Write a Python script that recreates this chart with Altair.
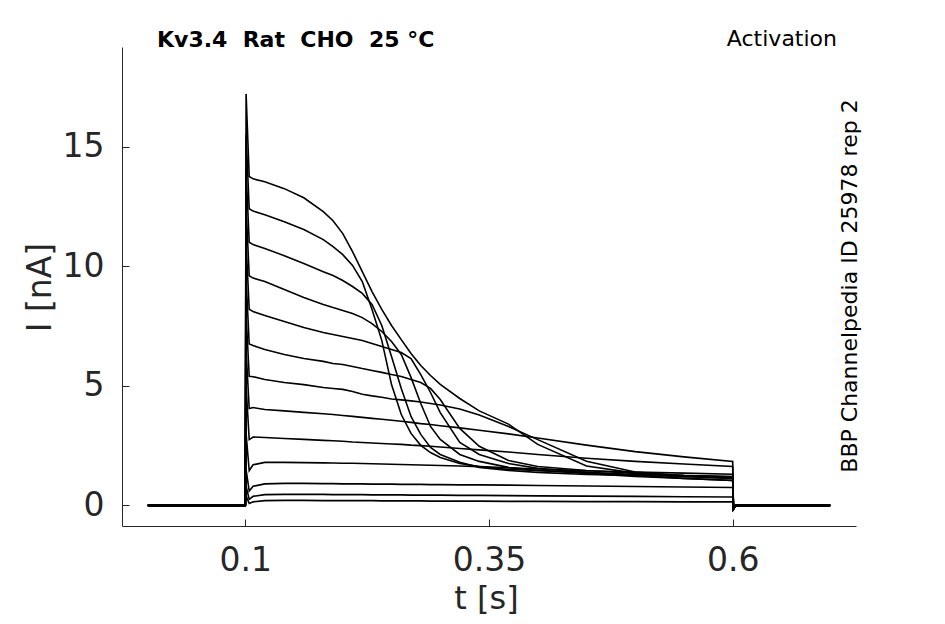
import altair as alt
import pandas as pd

# ---- data (time in s, current in nA) ----
TIME = [0.1, 0.1008, 0.104, 0.108, 0.12, 0.14, 0.16, 0.18, 0.19, 0.2, 0.21, 0.22, 0.23, 0.24,
        0.25, 0.26, 0.27, 0.28, 0.29, 0.30, 0.32, 0.34, 0.37, 0.40, 0.45, 0.50, 0.55, 0.60]

TRACE_01 = [0, 17.2, 13.75, 13.65, 13.53, 13.24, 12.86, 12.28, 11.90, 11.36, 10.61, 9.77, 8.94, 8.19,
            7.52, 6.93, 6.35, 5.85, 5.43, 5.06, 4.47, 3.95, 3.40, 2.55, 1.65, 1.35, 1.25, 1.20]
TRACE_02 = [0, 15.5, 12.4, 12.3, 12.15, 11.86, 11.53, 11.11, 10.82, 10.48, 10.03, 9.36, 8.19, 6.9,
            5.05, 3.80, 3.01, 2.51, 2.21, 2.0, 1.75, 1.63, 1.50, 1.46, 1.38, 1.29, 1.25, 1.21]
TRACE_03 = [0, 14.0, 11.0, 10.9, 10.74, 10.44, 10.11, 9.77, 9.61, 9.40, 9.15, 8.86, 8.40, 7.52,
            6.22, 4.89, 3.72, 2.97, 2.42, 2.13, 1.80, 1.59, 1.46, 1.38, 1.29, 1.25, 1.21, 1.13]
TRACE_04 = [0, 12.5, 9.6, 9.5, 9.36, 9.02, 8.69, 8.40, 8.27, 8.15, 8.02, 7.85, 7.60, 7.27,
            6.85, 6.31, 5.35, 4.26, 3.30, 2.76, 2.13, 1.84, 1.59, 1.46, 1.34, 1.21, 1.13, 1.04]
TRACE_05 = [0, 11.0, 8.2, 8.1, 7.94, 7.69, 7.44, 7.23, 7.14, 7.06, 6.98, 6.89, 6.77, 6.64,
            6.52, 6.39, 6.14, 5.47, 4.72, 3.88, 2.63, 2.13, 1.75, 1.55, 1.38, 1.25, 1.13, 1.04]
TRACE_06 = [0, 9.5, 6.75, 6.68, 6.52, 6.31, 6.14, 6.02, 5.93, 5.89, 5.81, 5.72, 5.64, 5.56,
            5.47, 5.39, 5.26, 5.14, 4.89, 4.43, 3.22, 2.47, 1.88, 1.63, 1.46, 1.34, 1.21, 1.13]
TRACE_07 = [0, 8.0, 5.4, 5.38, 5.26, 5.14, 5.05, 4.93, 4.89, 4.85, 4.76, 4.65, 4.58, 4.52,
            4.45, 4.41, 4.37, 4.32, 4.26, 4.20, 4.03, 3.78, 3.30, 2.75, 1.85, 1.40, 1.25, 1.18]
TRACE_08 = [0, 6.5, 4.05, 4.09, 4.01, 3.95, 3.89, 3.83, 3.80, 3.76, 3.72, 3.68, 3.64, 3.60,
            3.56, 3.52, 3.47, 3.42, 3.38, 3.33, 3.24, 3.14, 2.99, 2.82, 2.52, 2.25, 2.03, 1.84]
TRACE_09 = [0, 5.0, 2.75, 2.86, 2.84, 2.80, 2.76, 2.72, 2.70, 2.68, 2.65, 2.63, 2.61, 2.59,
            2.57, 2.55, 2.52, 2.50, 2.47, 2.44, 2.38, 2.32, 2.23, 2.13, 1.97, 1.84, 1.73, 1.63]
TRACE_10 = [0, 3.0, 1.45, 1.70, 1.80, 1.80, 1.79, 1.78, 1.77, 1.76, 1.76, 1.75, 1.74, 1.73,
            1.72, 1.71, 1.70, 1.69, 1.68, 1.67, 1.65, 1.62, 1.57, 1.52, 1.45, 1.40, 1.35, 1.30]
TRACE_11 = [0, 1.5, 0.60, 0.80, 0.90, 0.92, 0.92, 0.91, 0.91, 0.90, 0.90, 0.90, 0.89, 0.89,
            0.89, 0.88, 0.88, 0.88, 0.87, 0.87, 0.86, 0.86, 0.85, 0.83, 0.81, 0.79, 0.77, 0.75]
TRACE_12 = [0, 0.8, 0.25, 0.38, 0.45, 0.46, 0.46, 0.46, 0.45, 0.45, 0.45, 0.45, 0.44, 0.44,
            0.44, 0.44, 0.43, 0.43, 0.43, 0.43, 0.42, 0.42, 0.41, 0.40, 0.39, 0.38, 0.36, 0.35]
TRACE_13 = [0, 0.4, 0.08, 0.15, 0.2, 0.21, 0.21, 0.2, 0.2, 0.2, 0.2, 0.2, 0.2, 0.19,
            0.19, 0.19, 0.19, 0.19, 0.18, 0.18, 0.18, 0.18, 0.17, 0.17, 0.16, 0.16, 0.15, 0.15]

TRACES = [TRACE_01, TRACE_02, TRACE_03, TRACE_04, TRACE_05, TRACE_06, TRACE_07,
          TRACE_08, TRACE_09, TRACE_10, TRACE_11, TRACE_12, TRACE_13]

# holding level before the step and after the step returns
PRE_T = [0.0]
PRE_I = [0.0]
POST_T = [0.6008, 0.603, 0.7]
POST_I = [-0.15, 0.0, 0.0]

X_TICKS = [0.1, 0.35, 0.6]
Y_TICKS = [0, 5, 10, 15]

NB = "\u00a0"
TITLE = f"Kv3.4{NB} Rat{NB} CHO{NB} 25 °C"
TAG = "Activation"
SOURCE = "BBP Channelpedia ID 25978 rep 2"
X_TITLE = "t [s]"
Y_TITLE = "I [nA]"

rows = []
for k, tr in enumerate(TRACES):
    ts = PRE_T + TIME + POST_T
    vs = PRE_I + tr + POST_I
    for j, (t, v) in enumerate(zip(ts, vs)):
        rows.append({"trace": f"s{k:02d}", "t": t, "I": v, "k": j})
df = pd.DataFrame(rows)

FONT = "DejaVu Sans"
INK = "#262626"

lines = alt.Chart(df).mark_line(color="black", strokeWidth=1.6, clip=True).encode(
    x=alt.X("t:Q",
            scale=alt.Scale(domain=[-0.0265, 0.7265], nice=False, zero=False),
            axis=alt.Axis(values=X_TICKS, format=".2~f", title=X_TITLE, grid=False,
                          domainColor=INK, domainWidth=1, tickColor=INK, tickWidth=1,
                          tickSize={"expr": "-7"}, labelPadding=25, labelFlush=False,
                          labelFont=FONT, labelFontSize=33, labelColor=INK,
                          titleFont=FONT, titleFontSize=32, titleFontWeight="normal",
                          titleColor=INK, titleX=364, titleY=82, titleAlign="center",
                          titleBaseline="alphabetic")),
    y=alt.Y("I:Q",
            scale=alt.Scale(domain=[-0.86, 19.16], nice=False, zero=False),
            axis=alt.Axis(values=Y_TICKS, format="d", title=Y_TITLE, grid=False,
                          domainColor=INK, domainWidth=1, tickColor=INK, tickWidth=1,
                          tickSize={"expr": "-7"}, labelPadding=25, labelFlush=False,
                          labelFont=FONT, labelFontSize=33, labelColor=INK,
                          titleFont=FONT, titleFontSize=33, titleFontWeight="normal",
                          titleColor=INK, titleAngle=270, titleX=-72, titleY=240,
                          titleAlign="center", titleBaseline="alphabetic")),
    detail="trace:N",
    order="k:Q",
)

ann = pd.DataFrame({"title": [TITLE], "tag": [TAG], "source": [SOURCE]})

title_txt = alt.Chart(ann).mark_text(font=FONT, fontSize=22, fontWeight="bold", color="black",
                                     align="left", baseline="alphabetic").encode(
    x=alt.value(35), y=alt.value(0), text="title:N")
tag_txt = alt.Chart(ann).mark_text(font=FONT, fontSize=22, color="black",
                                   align="right", baseline="alphabetic").encode(
    x=alt.value(715), y=alt.value(-1), text="tag:N")
src_txt = alt.Chart(ann).mark_text(font=FONT, fontSize=22, color="black", angle=270,
                                   align="center", baseline="alphabetic").encode(
    x=alt.value(735), y=alt.value(239), text="source:N")

chart = alt.layer(lines, title_txt, tag_txt, src_txt).properties(
    width=734, height=479,
    autosize=alt.AutoSizeParams(type="none"),
    padding={"left": 114, "top": 39, "right": 80, "bottom": 90},
    background="white",
).configure_view(stroke=None)

chart.save("out.html", embed_options={"renderer": "svg", "actions": False})
